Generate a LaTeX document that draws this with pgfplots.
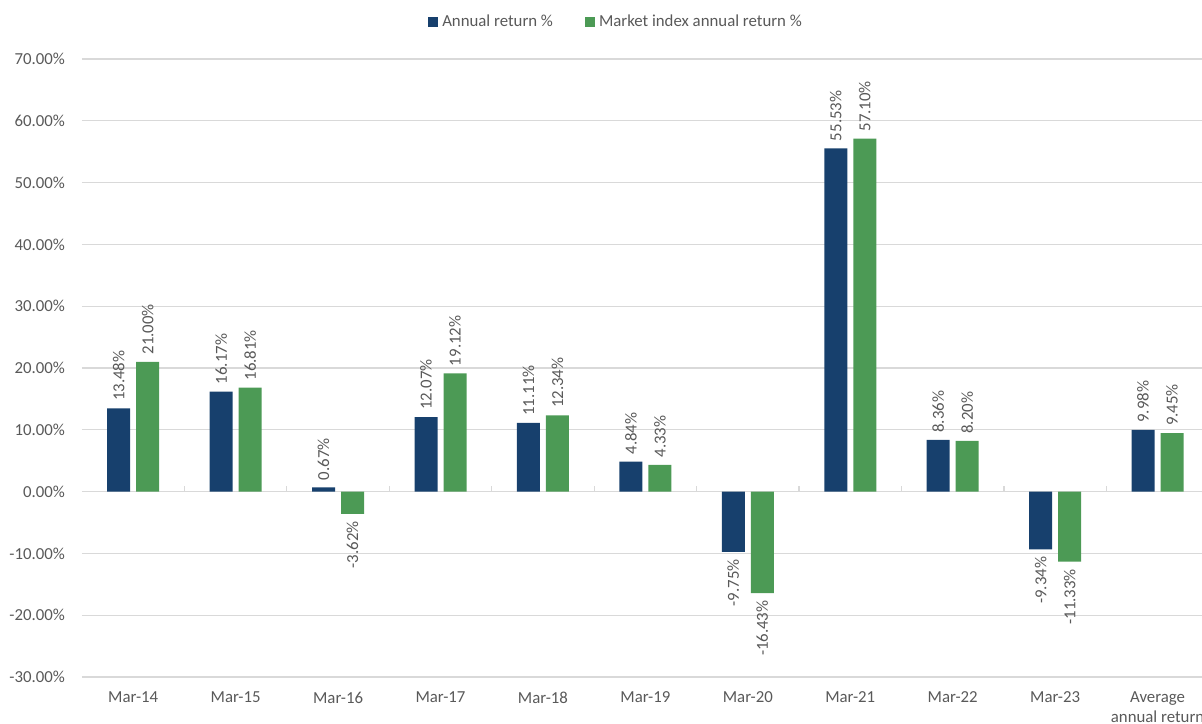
\documentclass[border=0pt]{standalone}
\usepackage{fontspec}
\setmainfont{Carlito}
\usepackage{graphicx}
\usepackage{pgfplots}
\pgfplotsset{compat=1.18}
\definecolor{cblue}{HTML}{17406D}
\definecolor{cgreen}{HTML}{4C9A55}
\definecolor{ctext}{HTML}{595959}
\definecolor{cgrid}{HTML}{D9D9D9}
\newcommand\myfont{\fontsize{8.4pt}{10pt}\selectfont}
\begin{document}
\begin{tikzpicture}
\useasboundingbox (-41pt,-23pt) rectangle (560pt,338.5pt);
\begin{axis}[
  scale only axis, width=560pt, height=309pt,
  xmin=-0.5, xmax=10.434, ymin=-30, ymax=70,
  ytick={-30,-20,...,70},
  xtick={0,...,10},
  xticklabels={Mar-14,Mar-15,Mar-16,Mar-17,Mar-18,Mar-19,Mar-20,Mar-21,Mar-22,Mar-23,{Average\\annual return}},
  xticklabel style={align=center, yshift=-4pt},
  yticklabel={\pgfmathprintnumber[fixed,fixed zerofill,precision=2]{\tick}\%},
  yticklabel style={xshift=-5pt},
  /pgf/number format/assume math mode=true,
  axis line style={draw=none},
  major tick length=0pt,
  ymajorgrids, grid style={cgrid, line width=0.6pt},
  tick label style={font=\myfont, text=ctext},
  ybar=3pt, bar width=11.5pt,
  nodes near coords={\rotatebox{90}{\pgfmathprintnumber[fixed,fixed zerofill,precision=2]{\pgfplotspointmeta}\%}},
  nodes near coords align={vertical},
  every node near coord/.append style={font=\myfont, text=ctext, inner sep=3.5pt},
  legend style={at={(0.4777,1)}, anchor=center, yshift=18.5pt, draw=none, fill=none, font=\myfont, text=ctext, legend columns=2, /tikz/every even column/.append style={column sep=14pt}},
  legend image code/.code={\fill[#1] (0pt,-2.5pt) rectangle (5pt,2.5pt);},
]
\addplot[fill=cblue, draw=none] coordinates {(0,13.48) (1,16.17) (2,0.67) (3,12.07) (4,11.11) (5,4.84) (6,-9.75) (7,55.53) (8,8.36) (9,-9.34) (10,9.98)};
\addlegendentry{Annual return \%}
\addplot[fill=cgreen, draw=none] coordinates {(0,21.00) (1,16.81) (2,-3.62) (3,19.12) (4,12.34) (5,4.33) (6,-16.43) (7,57.10) (8,8.20) (9,-11.33) (10,9.45)};
\addlegendentry{Market index annual return \%}
\pgfplotsinvokeforeach{0.5,1.5,...,9.5}{\draw[cgrid, line width=0.6pt] (axis cs:#1,0) -- ++(0pt,3pt);}
\end{axis}
\end{tikzpicture}
\end{document}
